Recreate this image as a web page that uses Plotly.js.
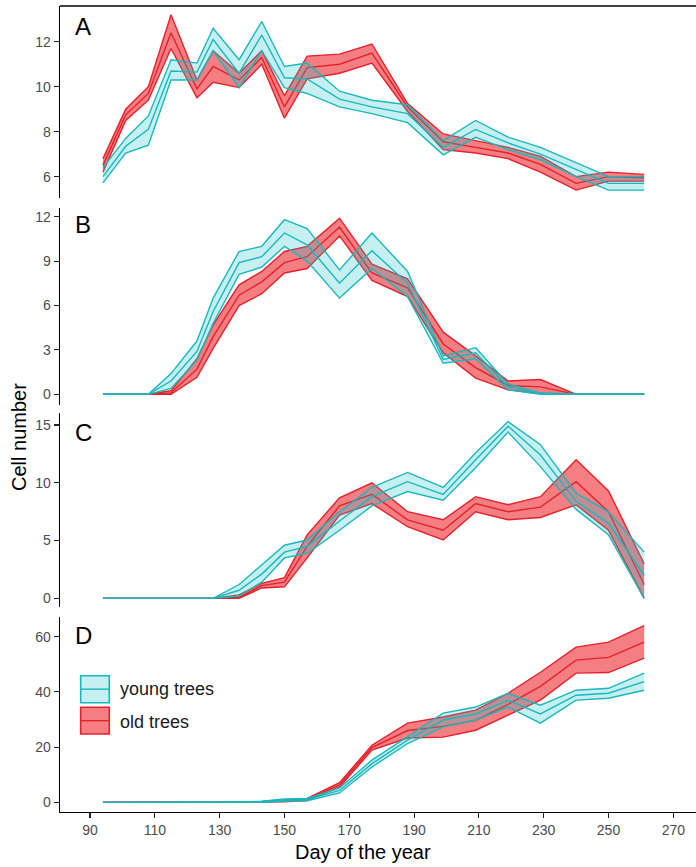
<!DOCTYPE html>
<html>
<head>
<meta charset="utf-8">
<script src="https://cdn.plot.ly/plotly-3.0.1.min.js"></script>
<style>html,body{margin:0;padding:0;background:#fff;}</style>
</head>
<body>
<div id="chart" style="width:696px;height:867px;"></div>
<script>
// Day of the year (sampling dates)
const days = [94, 101, 108, 115, 123, 128, 136, 143, 150, 157, 167, 177, 188, 199, 209, 219, 229, 240, 250, 261];

// Panel A
const A_old_lo  = [6.2, 8.5, 9.4, 11.7, 9.5, 10.2, 9.96, 11.0, 8.6, 10.35, 10.6, 11.05, 8.9, 7.2, 7.05, 6.8, 6.2, 5.4, 5.8, 5.8];
const A_old_mid = [6.5, 8.75, 9.7, 12.4, 9.9, 10.9, 10.3, 11.3, 9.1, 10.85, 11.0, 11.5, 9.1, 7.55, 7.3, 7.05, 6.55, 5.7, 6.0, 5.95];
const A_old_hi  = [6.8, 9.0, 10.0, 13.2, 10.3, 11.6, 10.6, 11.6, 9.6, 11.36, 11.45, 11.9, 9.25, 7.9, 7.6, 7.3, 6.9, 6.0, 6.2, 6.1];
const A_young_lo  = [5.72, 7.05, 7.4, 10.3, 10.3, 11.6, 9.96, 11.6, 9.96, 9.7, 9.1, 8.8, 8.4, 6.97, 7.75, 7.2, 6.75, 6.0, 5.4, 5.4];
const A_young_mid = [6.0, 7.35, 8.1, 10.7, 10.65, 12.1, 10.6, 12.3, 10.4, 10.35, 9.45, 9.1, 8.8, 7.3, 8.1, 7.5, 7.0, 6.3, 5.7, 5.7];
const A_young_hi  = [6.4, 7.7, 8.7, 11.2, 11.05, 12.6, 11.2, 12.9, 10.9, 11.05, 9.8, 9.4, 9.2, 7.6, 8.5, 7.76, 7.3, 6.6, 6.0, 6.0];

// Panel B
const B_old_lo  = [0, 0, 0, 0, 1.15, 3.1, 6.0, 6.8, 8.2, 8.5, 10.7, 7.7, 6.6, 2.8, 1.1, 0.3, 0.05, 0, 0, 0];
const B_old_mid = [0, 0, 0, 0.1, 1.7, 3.9, 6.7, 7.6, 8.9, 9.3, 11.3, 8.2, 7.2, 3.4, 1.8, 0.6, 0.5, 0, 0, 0];
const B_old_hi  = [0, 0, 0, 0.25, 2.4, 4.7, 7.4, 8.3, 9.65, 10.0, 11.9, 8.8, 7.8, 4.2, 2.6, 0.9, 1.0, 0, 0, 0];
const B_young_lo  = [0, 0, 0, 0.4, 2.3, 4.8, 8.1, 8.6, 10.0, 9.0, 6.5, 8.5, 6.6, 2.1, 2.4, 0.3, 0, 0, 0, 0];
const B_young_mid = [0, 0, 0, 0.9, 2.9, 5.6, 8.9, 9.3, 10.9, 10.1, 7.5, 9.7, 7.5, 2.35, 2.8, 0.5, 0.05, 0, 0, 0];
const B_young_hi  = [0, 0, 0, 1.4, 3.6, 6.5, 9.65, 10.0, 11.8, 11.2, 8.4, 10.9, 8.3, 2.6, 3.15, 0.7, 0.1, 0, 0, 0];

// Panel C
const C_old_lo  = [0, 0, 0, 0, 0, 0, 0, 0.9, 1.0, 3.5, 7.2, 8.2, 6.2, 5.05, 7.5, 6.8, 7.0, 8.1, 5.9, 0];
const C_old_mid = [0, 0, 0, 0, 0, 0, 0.1, 1.1, 1.4, 4.5, 8.0, 9.0, 6.8, 5.9, 8.2, 7.5, 7.9, 10.1, 7.5, 1.2];
const C_old_hi  = [0, 0, 0, 0, 0, 0, 0.3, 1.3, 1.8, 5.5, 8.7, 10.0, 7.5, 6.8, 8.8, 8.1, 8.8, 12.0, 9.3, 3.0];
const C_young_lo  = [0, 0, 0, 0, 0, 0, 0.2, 1.4, 3.5, 3.9, 5.9, 8.0, 9.25, 8.5, 11.3, 14.4, 11.4, 7.7, 5.5, 0];
const C_young_mid = [0, 0, 0, 0, 0, 0, 0.7, 2.1, 4.0, 4.5, 6.7, 8.8, 10.1, 9.0, 12.0, 14.9, 12.4, 8.4, 6.5, 2.0];
const C_young_hi  = [0, 0, 0, 0, 0, 0, 1.2, 2.9, 4.6, 5.05, 7.5, 9.6, 10.9, 9.6, 12.6, 15.3, 13.3, 9.1, 7.5, 4.0];

// Panel D
const D_old_lo  = [0, 0, 0, 0, 0, 0, 0, 0, 0.2, 0.6, 5.5, 18.9, 23.3, 23.6, 26.1, 31.6, 37.0, 46.8, 47.0, 52.2];
const D_old_mid = [0, 0, 0, 0, 0, 0, 0, 0.1, 0.5, 1.0, 6.3, 19.8, 26.0, 27.5, 29.7, 35.5, 42.0, 51.5, 52.5, 58.0];
const D_old_hi  = [0, 0, 0, 0, 0, 0, 0, 0.3, 0.8, 1.4, 7.1, 20.7, 28.7, 30.9, 33.4, 39.5, 47.1, 56.2, 58.0, 64.0];
const D_young_lo  = [0, 0, 0, 0, 0, 0, 0, 0, 0.4, 0.6, 3.4, 12.8, 21.3, 27.3, 29.8, 34.5, 28.7, 37.0, 37.7, 40.6];
const D_young_mid = [0, 0, 0, 0, 0, 0, 0, 0.2, 0.8, 1.0, 4.3, 14.0, 22.5, 29.8, 32.0, 37.0, 32.0, 38.8, 39.5, 43.7];
const D_young_hi  = [0, 0, 0, 0, 0, 0, 0, 0.4, 1.2, 1.4, 5.2, 15.3, 23.7, 32.3, 34.5, 39.5, 35.2, 40.6, 41.3, 46.8];

const xTicks = [90, 110, 130, 150, 170, 190, 210, 230, 250, 270];
const groupNames = ['young trees', 'old trees'];
const panelLetters = ['A', 'B', 'C', 'D'];

const OLD_LINE = '#E5222B', OLD_FILL = 'rgba(236,40,46,0.6)';
const YNG_LINE = '#19B8BD', YNG_FILL = 'rgba(30,195,200,0.26)';

function ribbon(yax, lo, mid, hi, lc, fc) {
  const base = {x: days, xaxis: 'x', yaxis: yax, mode: 'lines', showlegend: false, hoverinfo: 'skip',
                line: {color: lc, width: 1.4}};
  return [
    Object.assign({}, base, {y: lo}),
    Object.assign({}, base, {y: hi, fill: 'tonexty', fillcolor: fc}),
    Object.assign({}, base, {y: mid})
  ];
}

const traces = [].concat(
  ribbon('y',  A_old_lo, A_old_mid, A_old_hi, OLD_LINE, OLD_FILL),
  ribbon('y',  A_young_lo, A_young_mid, A_young_hi, YNG_LINE, YNG_FILL),
  ribbon('y2', B_old_lo, B_old_mid, B_old_hi, OLD_LINE, OLD_FILL),
  ribbon('y2', B_young_lo, B_young_mid, B_young_hi, YNG_LINE, YNG_FILL),
  ribbon('y3', C_old_lo, C_old_mid, C_old_hi, OLD_LINE, OLD_FILL),
  ribbon('y3', C_young_lo, C_young_mid, C_young_hi, YNG_LINE, YNG_FILL),
  ribbon('y4', D_old_lo, D_old_mid, D_old_hi, OLD_LINE, OLD_FILL),
  ribbon('y4', D_young_lo, D_young_mid, D_young_hi, YNG_LINE, YNG_FILL)
);

const FONT = 'Liberation Sans, Arial, sans-serif';
const tickFont = {family: FONT, size: 14, color: '#4d4d4d'};

function yax(domain, range, tickvals) {
  return {domain: domain, range: range, tickvals: tickvals, anchor: 'x',
          showline: true, linecolor: '#000', linewidth: 1.3, ticks: 'outside', ticklen: 5,
          tickcolor: '#222', tickwidth: 1.1, showgrid: false, zeroline: false, tickfont: tickFont};
}

const letterY = [0.9743, 0.7283, 0.4709, 0.2184];
const annotations = panelLetters.map((t, i) => ({
  text: t, xref: 'paper', yref: 'paper', x: 0.0204, y: letterY[i], xanchor: 'left', yanchor: 'middle',
  showarrow: false, font: {family: FONT, size: 24, color: '#000'}
}));
annotations.push({text: 'Day of the year', xref: 'paper', yref: 'paper', x: 0.4764, y: -0.0496,
  xanchor: 'center', yanchor: 'middle', showarrow: false, font: {family: FONT, size: 20, color: '#000'}});
annotations.push({text: 'Cell number', xref: 'paper', yref: 'paper', x: -0.0645, y: 0.4653, textangle: -90,
  xanchor: 'center', yanchor: 'middle', showarrow: false, font: {family: FONT, size: 20, color: '#000'}});
annotations.push({text: groupNames[0], xref: 'paper', yref: 'paper', x: 0.0912, y: 0.1526,
  xanchor: 'left', yanchor: 'middle', showarrow: false, font: {family: FONT, size: 18, color: '#1a1a1a'}});
annotations.push({text: groupNames[1], xref: 'paper', yref: 'paper', x: 0.0912, y: 0.1117,
  xanchor: 'left', yanchor: 'middle', showarrow: false, font: {family: FONT, size: 18, color: '#1a1a1a'}});

const shapes = [
  {type: 'line', xref: 'paper', yref: 'paper', x0: 0, x1: 1, y0: 1, y1: 1, line: {color: '#000', width: 1.5}},
  // legend keys
  {type: 'rect', xref: 'paper', yref: 'paper', x0: 0.0325, x1: 0.0775, y0: 0.1356, y1: 0.1691,
   fillcolor: YNG_FILL, line: {color: YNG_LINE, width: 1.6}},
  {type: 'line', xref: 'paper', yref: 'paper', x0: 0.0325, x1: 0.0775, y0: 0.1524, y1: 0.1524,
   line: {color: YNG_LINE, width: 1.4}},
  {type: 'rect', xref: 'paper', yref: 'paper', x0: 0.0325, x1: 0.0775, y0: 0.0968, y1: 0.1299,
   fillcolor: OLD_FILL, line: {color: OLD_LINE, width: 1.6}},
  {type: 'line', xref: 'paper', yref: 'paper', x0: 0.0325, x1: 0.0775, y0: 0.1133, y1: 0.1133,
   line: {color: OLD_LINE, width: 1.4}}
];

const layout = {
  width: 696, height: 867,
  margin: {l: 60, r: 0, t: 6, b: 55, pad: 0},
  paper_bgcolor: '#fff', plot_bgcolor: '#fff',
  showlegend: false,
  xaxis: {domain: [0, 1], range: [80.74, 277], anchor: 'y4', tickvals: xTicks,
          showline: true, linecolor: '#000', linewidth: 1.3, ticks: 'outside', ticklen: 5,
          tickcolor: '#222', tickwidth: 1.1, showgrid: false, zeroline: false, tickfont: tickFont},
  yaxis:  yax([0.7618, 1], [5.05, 13.59], [6, 8, 10, 12]),
  yaxis2: yax([0.505, 0.7494], [-0.72, 12.59], [0, 3, 6, 9, 12]),
  yaxis3: yax([0.2543, 0.495], [-0.75, 16.04], [0, 5, 10, 15]),
  yaxis4: yax([0, 0.2419], [-3.5, 67.1], [0, 20, 40, 60]),
  annotations: annotations,
  shapes: shapes
};

Plotly.newPlot('chart', traces, layout, {displayModeBar: false, staticPlot: true});
</script>
</body>
</html>
